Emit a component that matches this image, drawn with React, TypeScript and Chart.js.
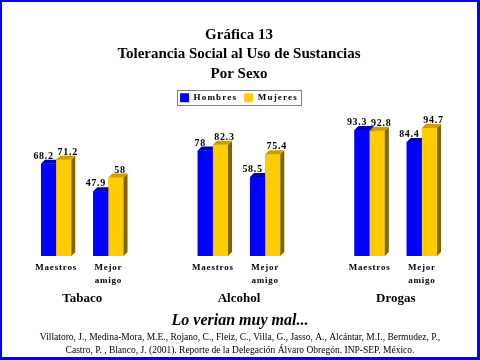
import React, { useEffect, useRef } from 'react';
import { Chart, registerables } from 'chart.js';

Chart.register(...registerables);

const titleLines = ['Gráfica 13', 'Tolerancia Social al Uso de Sustancias', 'Por Sexo'];
const categories: (string | string[])[] = [
  'Maestros', ['Mejor', 'amigo'], '',
  'Maestros', ['Mejor', 'amigo'], '',
  'Maestros', ['Mejor', 'amigo'],
];
const seriesNames = ['Hombres', 'Mujeres'];
const hombres = [68.2, 47.9, null, 78, 58.5, null, 93.3, 84.4];
const mujeres = [71.2, 58, null, 82.3, 75.4, null, 92.8, 94.7];
const groupNames = ['Tabaco', 'Alcohol', 'Drogas'];
const groupIndexes = [[0, 1], [3, 4], [6, 7]];
const footerLine = 'Lo verian muy mal...';
const citationLines = [
  'Villatoro, J., Medina-Mora, M.E., Rojano, C., Fleiz, C., Villa, G., Jasso, A., Alcántar, M.I., Bermudez, P.,',
  'Castro, P. , Blanco, J. (2001). Reporte de la Delegación Álvaro Obregón. INP-SEP. México.',
];

const SERIF = '"Liberation Serif", "Times New Roman", "DejaVu Serif", serif';
const frontColors = ['#0000FF', '#FFCC00'];
const topColors = ['#0000A8', '#CC9E00'];
const sideColors = ['#000080', '#806400'];
const DEPTH = 4;

function wrapSpacing(obj: any, method: string, spacing: string) {
  const key = '__sp_' + method;
  if (!obj || obj[key]) return;
  const orig = obj[method];
  obj[method] = function (...args: any[]) {
    const ctx = this.ctx;
    ctx.save();
    ctx.letterSpacing = spacing;
    try {
      return orig.apply(this, args);
    } finally {
      ctx.restore();
    }
  };
  obj[key] = true;
}

const spacingPlugin = {
  id: 'spacingPlugin',
  beforeLayout(chart: any) {
    wrapSpacing(chart.legend, 'update', '1.2px');
    wrapSpacing(chart.legend, 'draw', '1.2px');
    wrapSpacing(chart.scales.x, 'update', '0.8px');
    wrapSpacing(chart.scales.x, 'drawLabels', '0.8px');
  },
};

// Redraw bars in series order with 3D top/side faces so later series overlap earlier ones
const bar3dPlugin = {
  id: 'bar3d',
  afterDatasetsDraw(chart: any) {
    const ctx = chart.ctx;
    chart.data.datasets.forEach((ds: any, idx: number) => {
      const meta = chart.getDatasetMeta(idx);
      meta.data.forEach((el: any, i: number) => {
        if (ds.data[i] == null) return;
        el.draw(ctx);
        const { x, y, base, width } = el.getProps(['x', 'y', 'base', 'width'], true);
        const l = x - width / 2;
        const r = x + width / 2;
        ctx.save();
        ctx.fillStyle = sideColors[idx];
        ctx.beginPath();
        ctx.moveTo(r, y);
        ctx.lineTo(r + DEPTH, y - DEPTH);
        ctx.lineTo(r + DEPTH, base - DEPTH);
        ctx.lineTo(r, base);
        ctx.closePath();
        ctx.fill();
        ctx.fillStyle = topColors[idx];
        ctx.beginPath();
        ctx.moveTo(l, y);
        ctx.lineTo(l + DEPTH, y - DEPTH);
        ctx.lineTo(r + DEPTH, y - DEPTH);
        ctx.lineTo(r, y);
        ctx.closePath();
        ctx.fill();
        ctx.restore();
      });
    });
  },
};

const annotationsPlugin = {
  id: 'annotations',
  afterDatasetsDraw(chart: any) {
    const ctx = chart.ctx;
    ctx.save();
    ctx.fillStyle = '#000';
    ctx.letterSpacing = '0.7px';
    ctx.font = `bold 10px ${SERIF}`;
    ctx.textAlign = 'center';
    ctx.textBaseline = 'alphabetic';
    chart.data.datasets.forEach((ds: any, di: number) => {
      const meta = chart.getDatasetMeta(di);
      meta.data.forEach((el: any, i: number) => {
        const v = ds.data[i];
        if (v == null) return;
        const dx = di === 0 ? -5 : 4;
        ctx.fillText(String(v), el.x + dx, el.y - DEPTH - 1);
      });
    });
    ctx.restore();
  },
  afterDraw(chart: any) {
    const ctx = chart.ctx;
    const xs = chart.scales.x;
    const area = chart.chartArea;
    ctx.save();
    ctx.fillStyle = '#000';
    ctx.textAlign = 'center';
    ctx.textBaseline = 'middle';
    ctx.font = `bold 13px ${SERIF}`;
    groupNames.forEach((g, gi) => {
      const [a, b] = groupIndexes[gi];
      const cx = (xs.getPixelForValue(a) + xs.getPixelForValue(b)) / 2;
      ctx.fillText(g, cx, area.bottom + 43);
    });
    const cxAll = chart.width / 2;
    ctx.font = `italic bold 16px ${SERIF}`;
    ctx.fillText(footerLine, cxAll, 321);
    ctx.font = `9.5px ${SERIF}`;
    citationLines.forEach((line, li) => {
      ctx.fillText(line, cxAll, 337 + li * 13);
    });
    const lg = chart.legend;
    if (lg && lg.legendHitBoxes && lg.legendHitBoxes.length) {
      const boxes = lg.legendHitBoxes;
      const left = Math.min(...boxes.map((h: any) => h.left)) - 3;
      const right = Math.max(...boxes.map((h: any) => h.left + h.width)) + 3;
      const top = Math.min(...boxes.map((h: any) => h.top)) - 3;
      const bottom = Math.max(...boxes.map((h: any) => h.top + h.height)) + 3;
      ctx.strokeStyle = '#808080';
      ctx.lineWidth = 1;
      ctx.strokeRect(Math.round(left) + 0.5, Math.round(top) + 0.5, Math.round(right - left), Math.round(bottom - top));
    }
    ctx.restore();
  },
};

export default function App() {
  const ref = useRef<HTMLCanvasElement | null>(null);
  useEffect(() => {
    if (!ref.current) return;
    const chart = new Chart(ref.current, {
      type: 'bar',
      data: {
        labels: categories,
        datasets: [
          {
            label: seriesNames[0],
            data: hombres,
            backgroundColor: frontColors[0],
            borderWidth: 0,
            categoryPercentage: 0.58,
            barPercentage: 1,
          },
          {
            label: seriesNames[1],
            data: mujeres,
            backgroundColor: frontColors[1],
            borderWidth: 0,
            categoryPercentage: 0.58,
            barPercentage: 1,
          },
        ],
      },
      options: {
        responsive: false,
        animation: false,
        layout: { padding: { left: 30, right: 32, top: 0, bottom: 68 } },
        plugins: {
          title: {
            display: true,
            text: titleLines,
            color: '#000',
            font: { family: SERIF, size: 15, weight: 'bold', lineHeight: 1.27 },
            padding: { top: 26, bottom: 3 },
          },
          legend: {
            display: true,
            labels: {
              boxWidth: 9,
              boxHeight: 9,
              padding: 7,
              color: '#000',
              font: { family: SERIF, size: 9, weight: 'bold' },
            },
          },
          tooltip: { enabled: false },
        },
        scales: {
          x: {
            grid: { display: false, drawTicks: false },
            border: { display: false },
            ticks: {
              color: '#000',
              font: { family: SERIF, size: 9, weight: 'bold', lineHeight: 1.45 },
              padding: 5,
              maxRotation: 0,
              autoSkip: false,
            },
          },
          y: { display: false, min: 0, max: 106.5 },
        },
      } as any,
      plugins: [spacingPlugin, bar3dPlugin, annotationsPlugin],
    });
    return () => chart.destroy();
  }, []);
  return (
    <div style={{ position: 'absolute', left: 0, top: 0, width: 480, height: 360, background: '#fff' }}>
      <canvas ref={ref} width={480} height={360} style={{ display: 'block', width: 480, height: 360 }} />
      <div
        style={{
          position: 'absolute', left: 0, top: 0, width: 480, height: 360, boxSizing: 'border-box',
          borderStyle: 'solid', borderColor: '#0000FF', borderWidth: '2px 3px 3px 2px', pointerEvents: 'none',
        }}
      />
    </div>
  );
}
